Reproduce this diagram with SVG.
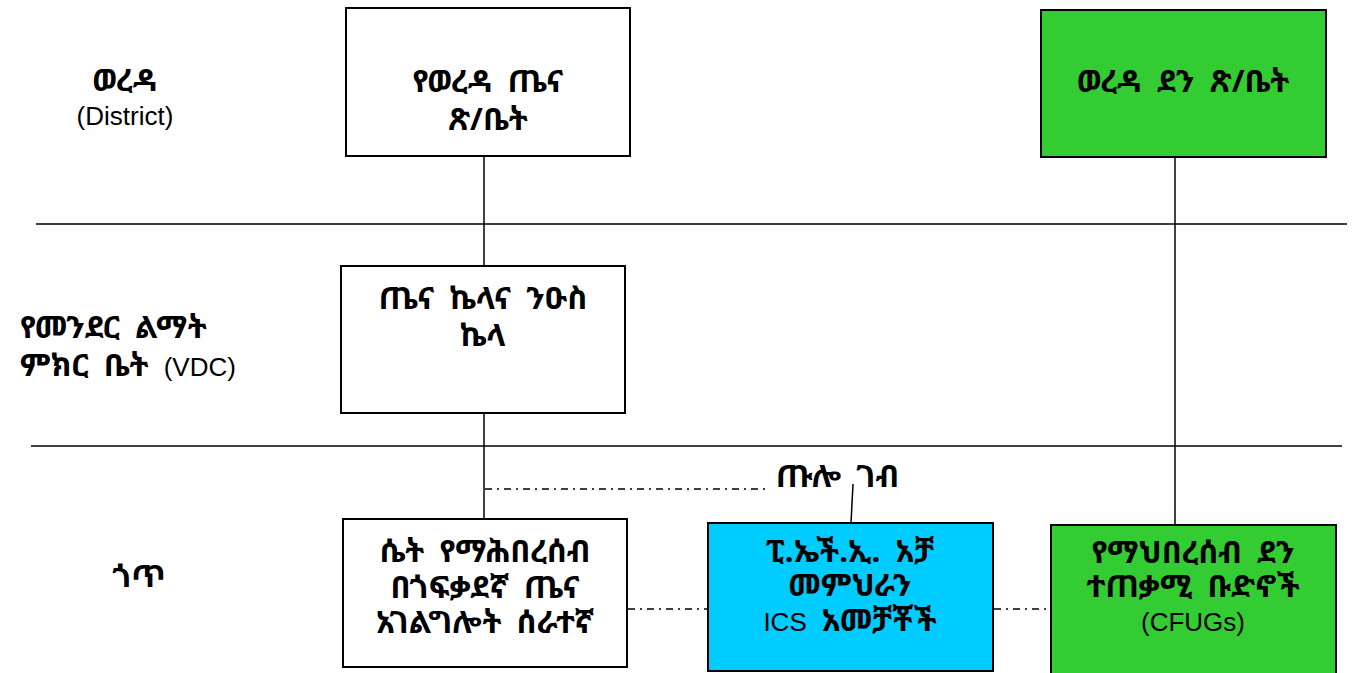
<svg xmlns="http://www.w3.org/2000/svg" width="1353" height="673" viewBox="0 0 1353 673">
<style>
.box{stroke:#000;stroke-width:2}
.w{fill:#fff}
.g{fill:#33CC33}
.c{fill:#00CCFF}
.et{font-family:"Noto Sans Ethiopic","Abyssinica SIL","Noto Serif Ethiopic","DejaVu Sans",sans-serif;font-weight:bold;font-size:31px;word-spacing:7px;fill:#000;text-anchor:middle}
.la{font-family:"Liberation Sans",Arial,sans-serif;font-size:26px;fill:#000;text-anchor:middle}
.lt{font-family:"Liberation Sans",Arial,sans-serif;font-size:26px;font-weight:normal}
.st{text-anchor:start}
.ln{stroke:#000;stroke-width:1.5;fill:none}
.dd{stroke:#000;stroke-width:1.5;fill:none;stroke-dasharray:7 5 2 5}
</style>
<g id="levels">
<line class="ln" x1="36" y1="224" x2="1347" y2="224"/>
<line class="ln" x1="31" y1="446" x2="1342" y2="446"/>
</g>
<g id="level-labels">
<text class="et" x="125" y="91">ወረዳ</text>
<text class="la" x="125" y="125">(District)</text>
<text class="et st" x="20" y="338">የመንደር ልማት</text>
<text class="et st" x="20" y="376">ምክር ቤት <tspan class="lt">(VDC)</tspan></text>
<text class="et" x="139" y="587">ጎጥ</text>
</g>
<g id="connectors">
<line class="ln" x1="484" y1="156" x2="484" y2="266"/>
<line class="ln" x1="484" y1="413" x2="484" y2="519"/>
<line class="ln" x1="1175" y1="157" x2="1175" y2="525"/>
<line class="dd" x1="485" y1="489" x2="768" y2="489"/>
<line class="ln" x1="853" y1="484" x2="851" y2="523"/>
<line class="dd" x1="628" y1="609" x2="707" y2="609"/>
<line class="dd" x1="994" y1="609" x2="1050" y2="609"/>
<text class="et st" x="776" y="487">ጡሎ ገብ</text>
</g>
<g id="node-woreda-health">
<rect class="box w" x="346" y="8" width="284" height="148"/>
<text class="et" x="488" y="92">የወረዳ ጤና</text>
<text class="et" x="488" y="130">ጽ/ቤት</text>
</g>
<g id="node-woreda-forest">
<rect class="box g" x="1041" y="10" width="285" height="147"/>
<text class="et" x="1183" y="92">ወረዳ ደን ጽ/ቤት</text>
</g>
<g id="node-health-post">
<rect class="box w" x="341" y="266" width="284" height="147"/>
<text class="et" x="483" y="309">ጤና ኬላና ንዑስ</text>
<text class="et" x="483" y="346">ኬላ</text>
</g>
<g id="node-volunteer">
<rect class="box w" x="343" y="519" width="284" height="148"/>
<text class="et" x="485" y="562">ሴት የማሕበረሰብ</text>
<text class="et" x="485" y="598">በጎፍቃደኛ ጤና</text>
<text class="et" x="485" y="633">አገልግሎት ሰራተኛ</text>
</g>
<g id="node-ics">
<rect class="box c" x="708" y="523" width="285" height="148"/>
<text class="et" x="850" y="562">ፒ.ኤች.ኢ. አቻ</text>
<text class="et" x="850" y="596">መምህራን</text>
<text class="et" x="850" y="631"><tspan class="lt">ICS</tspan> አመቻቾች</text>
</g>
<g id="node-cfug">
<rect class="box g" x="1051" y="525" width="285" height="150"/>
<text class="et" x="1193" y="563">የማህበረሰብ ደን</text>
<text class="et" x="1193" y="597">ተጠቃሚ ቡድኖች</text>
<text class="la" x="1193" y="631">(CFUGs)</text>
</g>
</svg>
